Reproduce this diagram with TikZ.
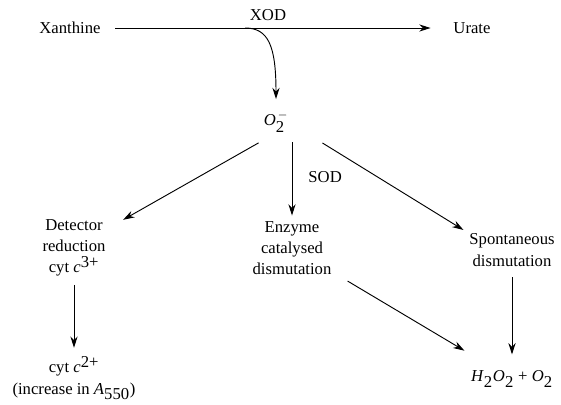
\documentclass[tikz,border=0pt]{standalone}
\usepackage{fontspec}
\setmainfont{Liberation Serif}
\usetikzlibrary{arrows.meta}
\newcommand{\sub}[1]{$_{\textrm{#1}}$}
\newcommand{\spr}[1]{$^{\textrm{#1}}$}
\tikzset{
	chem/.style={inner sep=0pt, align=center, font=\fontsize{12.5}{16}\selectfont},
	react/.style={-{Stealth[length=8.5pt,width=5.4pt]}, line width=0.7pt}
}

\begin{document}
\begin{tikzpicture}[x=0.75pt, y=-0.75pt]
					\useasboundingbox (0,0) rectangle (561,404);

					\node[chem] (xan) at (70,28) {Xanthine};
					\node[chem] (urate) at (472,28) {Urate};
					\node[chem] (xod) at (268,15) {XOD};
					\node[chem] (super) at (276,122) {$\textit{O}_{\textrm{2}}^{\,-}$};

					\node[chem] (detector) at (74,248) {Detector\\reduction\\cyt \textit{c}\spr{3+}};
					\node[chem] (enzyme) at (292,248) {Enzyme\\catalysed\\dismutation};
					\node[chem] (spont) at (512,250) {Spontaneous\\dismutation};

					\node[chem] (cytred) at (74,378) {cyt \textit{c}\spr{2+}\\(increase in \textit{A}\sub{550})};
					\node[chem] (perox) at (512,379) {\textit{H}\sub{2}\textit{O}\sub{2} + \textit{O}\sub{2}};

					\coordinate (branch) at (245,28);

					\draw[react, shorten <=11pt, shorten >=17pt] (xan) -- (urate);
					\draw[react] (branch) .. controls (268,28) and (276,45) .. ([yshift=9pt]super.north);

					\draw[react, shorten <=15pt, shorten >=15pt] (super.south) -- (detector.30);
					\draw[react, shorten <=7pt, shorten >=4pt] (super.south -| enzyme.north) -- (enzyme.north)
						node[chem, midway, right=12pt] (sod) {SOD};
					\draw[react, shorten <=30pt, shorten >=5pt] (super.east) -- (spont.north west);

					\draw[react, shorten <=6pt, shorten >=6pt] (detector) -- (cytred);
					\draw[react, shorten <=14pt, shorten >=29pt] (enzyme) -- (perox);
					\draw[react, shorten <=8pt, shorten >=12pt] (spont) -- (perox);

				\end{tikzpicture}
\end{document}
